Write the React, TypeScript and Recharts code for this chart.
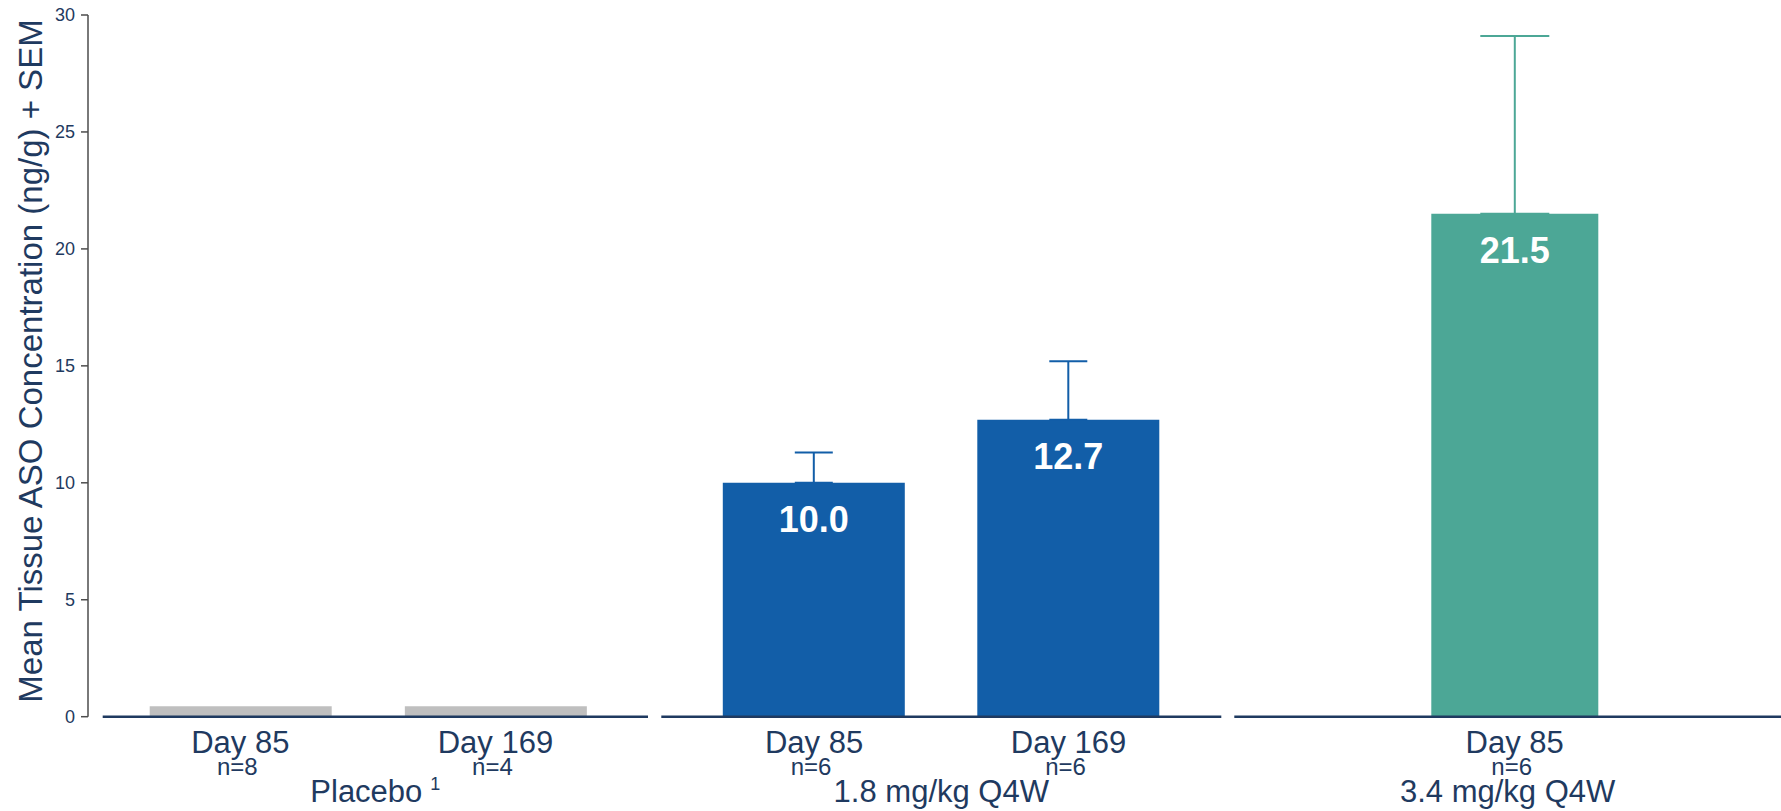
import { BarChart, Bar, XAxis, YAxis, ErrorBar, LabelList } from 'recharts';

const FONT = '"Liberation Sans", Arial, Helvetica, sans-serif';
const NAVY = '#1f3a60';

// placebo group
const placeboDays = ['Day 85', 'Day 169'];
const placeboN = ['n=8', 'n=4'];
const placeboMeans = [0.45, 0.45];

// 1.8 mg/kg Q4W group
const lowDays = ['Day 85', 'Day 169'];
const lowN = ['n=6', 'n=6'];
const lowMeans = [10.0, 12.7];
const lowSem = [1.3, 2.5];

// 3.4 mg/kg Q4W group
const highDays = ['Day 85'];
const highN = ['n=6'];
const highMeans = [21.5];
const highSem = [7.6];

const yTicks = [0, 5, 10, 15, 20, 25, 30];

function DayTick({ x, y, payload, ns }: any) {
  return (
    <g>
      <text x={x} y={y + 36} textAnchor="middle" fontSize={31} fill={NAVY} fontFamily={FONT}>
        {payload.value}
      </text>
      <text x={x - 3} y={y + 58} textAnchor="middle" fontSize={24} fill={NAVY} fontFamily={FONT}>
        {ns[payload.index]}
      </text>
    </g>
  );
}

function GroupLabel({ viewBox, text, sup }: any) {
  const cx = viewBox.x + viewBox.width / 2;
  return (
    <text x={cx} y={viewBox.y + 85} textAnchor="middle" fontSize={31} fill={NAVY} fontFamily={FONT}>
      {text}
      {sup && (
        <tspan dx={8} dy={-12} fontSize={18}>
          {sup}
        </tspan>
      )}
    </text>
  );
}

function YTitle() {
  return (
    <text
      x={42}
      y={361}
      transform="rotate(-90, 42, 361)"
      textAnchor="middle"
      fontSize={33}
      fill={NAVY}
      fontFamily={FONT}
    >
      Mean Tissue ASO Concentration (ng/g) + SEM
    </text>
  );
}

function Panel({ width, left, right, padLeft, padRight, days, ns, means, sem, color, group, sup, barSize, capWidth }: any) {
  const data = days.map((d: string, i: number) => ({
    day: d,
    mean: means[i],
    sem: sem ? [0, sem[i]] : undefined,
  }));

  return (
    <BarChart width={width} height={811} data={data} margin={{ top: 15, right, bottom: 4.3, left }}>
      <YAxis hide domain={[0, 30]} ticks={yTicks} />
      <XAxis
        dataKey="day"
        height={90}
        interval={0}
        padding={{ left: padLeft, right: padRight }}
        axisLine={{ stroke: NAVY, strokeWidth: 2.5 }}
        tickLine={false}
        tickSize={0}
        tickMargin={0}
        tick={(p: any) => <DayTick {...p} ns={ns} />}
        label={{ content: (p: any) => <GroupLabel viewBox={p.viewBox} text={group} sup={sup} /> }}
      />
      <Bar dataKey="mean" fill={color} barSize={barSize} isAnimationActive={false}>
        {sem && <ErrorBar dataKey="sem" width={capWidth} stroke={color} strokeWidth={2} direction="y" />}
        {sem && (
          <LabelList
            dataKey="mean"
            position="insideTop"
            offset={24}
            fill="#ffffff"
            fontSize={36}
            fontWeight="bold"
            fontFamily={FONT}
            formatter={(v: any) => Number(v).toFixed(1)}
          />
        )}
      </Bar>
    </BarChart>
  );
}

export default function App() {
  const axisData = placeboDays.map((d, i) => ({ day: d, mean: placeboMeans[i] }));
  return (
    <div style={{ display: 'flex', width: 1781, height: 811, overflow: 'hidden', background: '#fff' }}>
      <style>{'body{margin:0}'}</style>
      <BarChart width={95} height={811} data={axisData} margin={{ top: 15, right: 0, bottom: 94.3, left: 0 }}>
        <XAxis hide dataKey="day" />
        <YAxis
          width={88}
          type="number"
          domain={[0, 30]}
          ticks={yTicks}
          interval={0}
          tickSize={7}
          tickMargin={6}
          axisLine={{ stroke: '#4d4d4d', strokeWidth: 1.5 }}
          tickLine={{ stroke: '#4d4d4d', strokeWidth: 1.5 }}
          tick={{ fontSize: 18, fill: NAVY, fontFamily: FONT }}
          label={{ content: () => <YTitle /> }}
        />
        <Bar dataKey="mean" fill="none" isAnimationActive={false} />
      </BarChart>
      <Panel
        width={560}
        left={7.7}
        right={7}
        padLeft={10}
        padRight={25}
        days={placeboDays}
        ns={placeboN}
        means={placeboMeans}
        color="#bfbfbf"
        group="Placebo"
        sup="1"
        barSize={182}
      />
      <Panel
        width={573}
        left={6.3}
        right={6.7}
        padLeft={25.5}
        padRight={25.5}
        days={lowDays}
        ns={lowN}
        means={lowMeans}
        sem={lowSem}
        color="#125ea8"
        group="1.8 mg/kg Q4W"
        barSize={182}
        capWidth={19}
      />
      <Panel
        width={553}
        left={6.3}
        right={0}
        padLeft={14}
        padRight={0}
        days={highDays}
        ns={highN}
        means={highMeans}
        sem={highSem}
        color="#4ca796"
        group="3.4 mg/kg Q4W"
        barSize={167}
        capWidth={34.5}
      />
    </div>
  );
}
